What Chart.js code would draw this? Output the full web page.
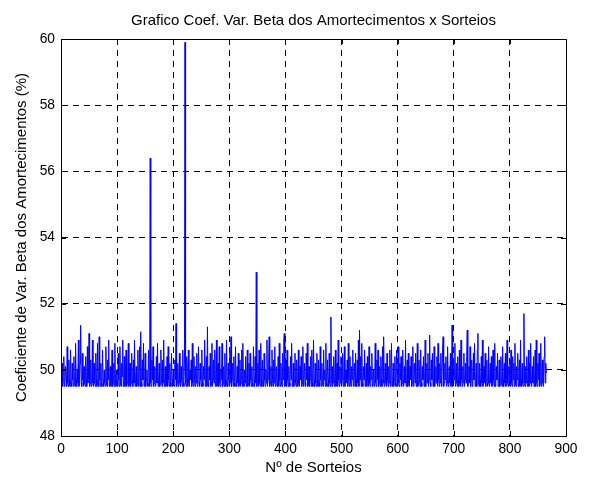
<!DOCTYPE html>
<html>
<head>
<meta charset="utf-8">
<script src="https://cdn.jsdelivr.net/npm/chart.js@4/dist/chart.umd.min.js"></script>
<style>
  html, body { margin: 0; padding: 0; background: #fff; }
  canvas { display: block; }
</style>
</head>
<body>
<canvas id="grafico" width="591" height="477"></canvas>
<script>
// Textos do grafico
var titulo = "Grafico Coef. Var. Beta dos Amortecimentos x Sorteios";
var tituloX = "Nº de Sorteios";
var tituloY = "Coeficiente de Var. Beta dos Amortecimentos (%)";

// Marcas dos eixos
var ticksX = [0, 100, 200, 300, 400, 500, 600, 700, 800, 900];
var ticksY = [48, 50, 52, 54, 56, 58, 60];

// Coeficiente de variacao (%) por sorteio
var coefVar = [
  49.6,50.2,49.5,49.7,50.4,49.5,49.6,50.1,49.8,49.5,50.7,49.6,49.5,50.3,49.7,49.5,50.6,49.6,49.5,50.2,
  49.7,49.5,50.4,49.6,49.5,50.8,49.7,49.5,50.0,49.6,50.9,49.5,49.7,50.2,51.35,49.6,49.5,50.5,49.7,49.5,
  50.1,49.6,49.5,50.4,49.7,49.5,50.7,49.6,49.8,51.1,49.5,49.6,50.3,49.5,49.7,50.9,49.6,49.5,50.2,49.6,
  49.5,50.5,49.7,49.5,50.8,49.6,49.5,51.0,49.7,49.5,50.2,49.6,49.5,50.6,49.7,49.5,50.0,49.6,49.5,50.7,
  49.6,49.5,50.3,49.7,50.9,49.5,49.6,50.1,49.5,49.7,50.6,49.5,49.6,50.2,49.5,50.8,49.7,49.5,50.0,49.6,
  49.5,50.5,49.7,49.5,50.7,49.6,49.5,50.2,49.8,50.9,49.5,49.6,50.4,49.5,49.7,50.6,49.5,49.6,50.1,50.8,
  49.5,49.7,50.2,49.5,49.6,50.5,49.7,49.5,50.3,49.6,50.9,49.5,49.7,50.1,49.5,49.6,50.6,49.5,49.7,50.7,
  49.5,51.15,49.6,49.5,50.3,49.7,50.8,49.5,49.6,50.5,49.5,49.7,50.0,49.6,49.5,50.6,49.7,49.5,56.4,49.6,
  49.5,50.3,49.7,50.7,49.5,49.6,50.1,49.5,49.7,50.4,49.6,50.8,49.5,49.7,50.2,49.5,49.6,50.6,49.7,49.5,
  50.3,49.6,50.9,49.5,49.7,50.1,49.5,49.6,50.4,49.5,50.7,49.7,49.5,50.2,49.6,49.5,50.5,49.7,49.5,50.0,
  49.6,49.5,50.3,49.7,51.4,49.5,49.6,50.2,49.5,49.7,50.5,49.6,49.5,50.1,49.7,49.5,50.6,49.6,49.5,50.2,
  59.9,49.6,49.5,50.4,49.7,49.5,50.6,49.6,49.5,50.0,49.7,50.3,49.5,50.8,49.6,49.5,50.4,49.7,49.5,50.1,
  49.6,50.5,49.5,49.7,50.7,49.6,49.5,50.2,49.7,49.5,50.6,49.6,49.5,50.1,49.7,50.9,49.5,49.6,50.4,49.5,
  51.3,49.6,49.5,50.1,49.7,50.5,49.5,49.6,50.8,49.5,49.7,50.3,49.6,50.6,49.5,49.7,50.9,49.5,49.6,50.2,
  49.5,50.7,49.6,49.5,50.0,49.7,50.8,49.5,49.6,50.1,49.5,50.5,49.7,49.5,50.9,49.6,49.5,50.2,49.7,49.5,
  50.6,49.6,51.0,49.5,49.7,50.2,49.5,50.4,49.6,49.5,50.7,49.7,49.5,50.1,49.6,50.5,49.5,49.7,50.3,49.5,
  49.6,50.6,49.5,50.8,49.7,49.5,50.0,49.6,50.4,49.5,49.7,50.6,49.5,49.6,50.2,49.5,50.5,49.7,49.5,50.1,
  49.6,49.5,50.7,49.7,49.5,50.4,49.6,52.95,49.5,49.7,50.2,49.5,50.6,49.6,49.5,50.8,49.7,49.5,50.3,49.6,
  49.5,50.5,49.7,49.5,50.0,49.6,50.9,49.5,49.7,50.2,51.0,49.5,49.6,50.1,49.5,50.6,49.7,49.5,50.3,49.6,
  50.7,49.5,49.7,50.1,49.5,49.6,50.4,49.5,50.8,49.7,49.5,50.2,49.6,49.5,50.5,49.7,50.9,51.1,49.5,49.6,
  50.3,49.5,50.6,49.7,49.5,50.1,49.6,49.5,50.4,49.7,50.8,49.5,49.6,50.2,49.5,49.7,50.5,49.6,49.5,50.3,
  49.7,49.5,50.6,49.6,49.5,50.1,49.7,50.4,49.5,49.6,50.7,49.5,49.7,50.2,49.6,49.5,50.5,49.7,50.8,49.5,
  49.6,50.1,49.5,49.7,50.4,49.5,50.6,49.6,49.5,50.9,49.7,49.5,50.2,49.6,49.5,50.5,49.7,49.5,50.3,49.6,
  49.5,50.7,49.7,49.5,50.2,49.6,49.5,50.6,49.7,50.0,49.5,50.8,49.6,49.5,50.3,49.7,49.5,50.5,49.6,49.5,
  51.6,49.7,49.5,50.1,49.6,50.4,49.5,49.7,50.6,49.5,49.6,50.2,49.5,50.9,49.7,49.5,50.1,49.6,50.4,49.5,
  49.7,50.5,49.5,49.6,50.7,49.5,49.7,50.0,49.6,50.3,49.5,50.8,49.7,49.5,50.4,49.6,49.5,50.1,49.7,50.6,
  49.5,49.6,50.2,49.5,50.5,49.7,49.5,50.3,49.6,50.9,49.5,51.2,49.7,50.4,49.5,50.8,49.6,49.5,50.1,49.7,
  50.6,49.5,49.6,50.2,49.5,50.4,49.7,49.5,50.7,49.6,49.5,50.1,49.7,50.5,49.5,49.6,50.0,49.5,49.7,50.8,
  49.6,49.5,50.3,49.7,50.6,49.5,49.6,50.1,49.5,50.4,49.7,49.5,50.7,49.6,51.0,49.5,49.7,50.2,49.6,49.5,
  50.5,49.7,49.5,50.1,49.6,50.6,49.5,49.7,50.8,49.5,49.6,50.2,49.5,49.7,50.4,49.6,49.5,50.6,49.7,49.5,
  50.7,49.6,49.5,50.2,49.7,50.4,49.5,49.6,50.6,49.5,49.7,50.1,49.6,50.9,49.5,49.7,50.3,49.5,50.5,49.6,
  49.5,50.1,49.7,50.4,49.5,49.6,50.7,49.5,49.7,50.2,49.6,50.5,49.5,49.7,50.8,49.5,49.6,50.3,49.7,49.5,
  50.6,49.6,49.5,50.1,49.7,50.4,49.5,49.6,50.9,49.5,49.7,50.2,49.6,50.5,49.5,49.7,51.05,49.6,49.5,50.3,
  49.7,50.5,49.5,49.6,50.7,49.5,49.7,50.1,49.6,50.4,49.5,50.8,49.7,49.5,50.2,49.6,50.5,49.5,49.7,50.6,
  51.0,49.5,49.6,50.2,49.7,50.4,49.5,49.6,50.7,49.5,49.7,50.1,49.6,50.5,49.5,49.7,51.35,49.5,49.6,50.3,
  49.7,50.8,49.5,49.6,50.2,49.5,50.4,49.7,49.5,50.6,49.6,49.5,50.9,49.7,49.5,50.1,49.6,50.5,49.5,49.7,
  50.2,49.6,50.4,51.2,49.5,49.7,50.1,49.6,50.7,49.5,49.7,50.3,49.5,49.6,50.5,49.7,50.8,49.5,49.6,50.2,
  49.5,50.6,51.1,49.6,49.5,50.2,49.7,49.5,50.4,49.6,50.9,49.5,49.7,50.1,49.6,50.5,49.5,49.7,50.3,49.5,
  49.6,50.7,49.5,49.7,50.2,49.6,50.4,49.5,49.6,50.6,49.7,49.5,50.8,49.5,49.6,50.1,49.7,50.5,49.5,49.6,
  50.3,49.5,49.7,50.4,49.6,49.5,50.7,49.7,49.5,50.2,49.6,50.5,49.5,49.7,50.9,49.6,49.5,50.1,49.7,50.3,
  49.5,50.6,49.6,49.5,50.4,49.7,50.2,49.5,50.8,49.6,49.5,50.1,49.7,50.5,49.5,49.6,50.3,49.5,50.9,49.7,
  49.5,50.2,49.6,49.5,51.7,49.7,49.5,50.1,49.6,50.4,49.5,49.7,50.6,49.5,50.2,49.6,50.8,49.5,49.7,50.1,
  49.6,50.4,49.5,49.7,50.6,49.5,50.9,49.6,49.5,50.2,49.7,50.5,49.5,49.6,50.8,49.5,49.7,50.3,49.6,49.5,
  50.4,51.0,49.6,50.2,49.9
];

var fonte = '"Liberation Sans", Arial, Helvetica, sans-serif';

// pontos (sorteio, valor)
var pontos = coefVar.map(function (v, i) { return { x: i + 1, y: v }; });

// caixa e marcas internas no estilo do MATLAB
var caixaMatlab = {
  id: "caixaMatlab",
  afterDraw: function (chart) {
    var ctx = chart.ctx;
    var a = chart.chartArea;
    var sx = chart.scales.x, sy = chart.scales.y;
    ctx.save();
    ctx.strokeStyle = "#000";
    ctx.lineWidth = 1;
    ctx.setLineDash([]);
    ctx.beginPath();
    ticksX.forEach(function (t) {
      var px = Math.round(sx.getPixelForValue(t)) + 0.5;
      ctx.moveTo(px, a.bottom); ctx.lineTo(px, a.bottom - 5);
      ctx.moveTo(px, a.top); ctx.lineTo(px, a.top + 5);
    });
    ticksY.forEach(function (t) {
      var py = Math.round(sy.getPixelForValue(t)) + 0.5;
      ctx.moveTo(a.left, py); ctx.lineTo(a.left + 5, py);
      ctx.moveTo(a.right, py); ctx.lineTo(a.right - 5, py);
    });
    ctx.stroke();
    ctx.strokeRect(Math.round(a.left) + 0.5, Math.round(a.top) + 0.5,
      Math.round(a.right - a.left), Math.round(a.bottom - a.top));
    ctx.restore();
  }
};

var ctx = document.getElementById("grafico").getContext("2d");
var grafico = new Chart(ctx, {
  type: "line",
  data: {
    datasets: [
      {
        data: pontos,
        borderColor: "#0000ff",
        borderWidth: 1,
        pointRadius: 0,
        tension: 0,
        fill: false,
      },
    ],
  },
  options: {
    responsive: false,
    animation: false,
    devicePixelRatio: 1,
    layout: {
      padding: { left: 0, right: 25, top: 0, bottom: 0 },
    },
    scales: {
      x: {
        type: "linear",
        min: 0,
        max: 900,
        afterBuildTicks: function (s) {
          s.ticks = ticksX.map(function (v) { return { value: v }; });
        },
        afterFit: function (s) { s.height = 41; },
        grid: {
          color: "#000",
          lineWidth: 1,
          drawTicks: false,
        },
        border: { display: true, color: "#000", dash: [6, 5] },
        ticks: {
          color: "#000",
          padding: 5,
          maxRotation: 0,
          font: { family: fonte, size: 13.8 },
        },
        title: {
          display: true,
          text: tituloX,
          color: "#000",
          padding: { top: 2, bottom: 0 },
          font: { family: fonte, size: 15 },
        },
      },
      y: {
        type: "linear",
        min: 48,
        max: 60,
        afterBuildTicks: function (s) {
          s.ticks = ticksY.map(function (v) { return { value: v }; });
        },
        afterFit: function (s) { s.width = 61; },
        grid: {
          color: "#000",
          lineWidth: 1,
          drawTicks: false,
        },
        border: { display: true, color: "#000", dash: [6, 5] },
        ticks: {
          color: "#000",
          padding: 6,
          font: { family: fonte, size: 13.8 },
        },
        title: {
          display: true,
          text: tituloY,
          color: "#000",
          padding: { top: 12.5, bottom: 2 },
          font: { family: fonte, size: 15 },
        },
      },
    },
    plugins: {
      legend: { display: false },
      tooltip: { enabled: false },
      title: {
        display: true,
        fullSize: false,
        text: titulo,
        color: "#000",
        padding: { top: 11.6, bottom: 9.4 },
        font: { family: fonte, size: 15, weight: "normal" },
      },
    },
  },
  plugins: [caixaMatlab],
});
</script>
</body>
</html>
